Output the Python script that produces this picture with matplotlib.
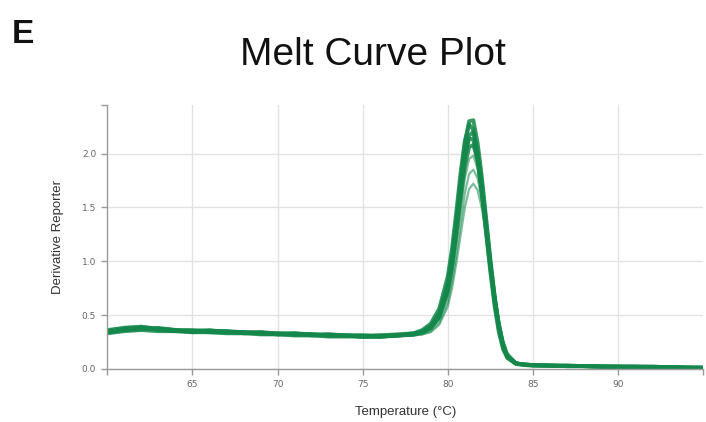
import matplotlib.pyplot as plt

# temperature steps (degC), denser around the melt peak
temps = [60, 61, 62, 63, 64, 65, 66, 67, 68, 69, 70, 71, 72, 73, 74, 75, 76, 77, 78,
         78.5, 79, 79.5, 80, 80.25, 80.5, 80.75, 81, 81.25, 81.5, 81.75, 82, 82.25,
         82.5, 82.75, 83, 83.25, 83.5, 84, 84.5, 85, 86, 87, 88, 89, 90, 91, 92, 93, 94, 95]

# derivative reporter (-Rn') per well
well_a = [0.36, 0.38, 0.39, 0.37, 0.36, 0.36, 0.35, 0.35, 0.34, 0.34, 0.33, 0.33, 0.32, 0.32, 0.31, 0.31, 0.31, 0.32, 0.33,
          0.35, 0.40, 0.52, 0.80, 1.05, 1.38, 1.75, 2.08, 2.30, 2.31, 2.10, 1.78, 1.40, 1.02, 0.68, 0.40, 0.22, 0.12,
          0.05, 0.04, 0.035, 0.03, 0.03, 0.025, 0.025, 0.02, 0.02, 0.02, 0.015, 0.015, 0.01]
well_b = [0.34, 0.37, 0.38, 0.36, 0.35, 0.35, 0.36, 0.34, 0.34, 0.33, 0.33, 0.32, 0.32, 0.31, 0.31, 0.30, 0.31, 0.31, 0.33,
          0.36, 0.42, 0.56, 0.86, 1.12, 1.46, 1.82, 2.12, 2.27, 2.22, 1.98, 1.64, 1.26, 0.90, 0.58, 0.34, 0.18, 0.10,
          0.045, 0.035, 0.03, 0.03, 0.025, 0.025, 0.02, 0.02, 0.02, 0.015, 0.015, 0.01, 0.01]
well_c = [0.35, 0.36, 0.37, 0.38, 0.36, 0.34, 0.35, 0.35, 0.33, 0.34, 0.32, 0.33, 0.31, 0.32, 0.31, 0.30, 0.30, 0.31, 0.32,
          0.34, 0.38, 0.49, 0.74, 0.98, 1.30, 1.65, 1.97, 2.17, 2.20, 2.02, 1.72, 1.36, 0.99, 0.66, 0.39, 0.21, 0.11,
          0.05, 0.04, 0.035, 0.03, 0.03, 0.025, 0.02, 0.02, 0.02, 0.02, 0.015, 0.01, 0.01]
well_d = [0.33, 0.35, 0.36, 0.35, 0.35, 0.34, 0.34, 0.33, 0.33, 0.32, 0.32, 0.31, 0.31, 0.30, 0.30, 0.30, 0.30, 0.31, 0.32,
          0.34, 0.38, 0.50, 0.76, 1.00, 1.32, 1.66, 1.96, 2.14, 2.13, 1.93, 1.63, 1.28, 0.93, 0.62, 0.37, 0.20, 0.11,
          0.05, 0.04, 0.03, 0.03, 0.025, 0.025, 0.02, 0.02, 0.015, 0.015, 0.015, 0.01, 0.01]
well_e = [0.34, 0.36, 0.38, 0.37, 0.35, 0.35, 0.34, 0.34, 0.34, 0.33, 0.32, 0.32, 0.32, 0.31, 0.31, 0.31, 0.30, 0.31, 0.32,
          0.34, 0.38, 0.48, 0.72, 0.95, 1.25, 1.58, 1.88, 2.06, 2.08, 1.94, 1.66, 1.32, 0.97, 0.66, 0.40, 0.22, 0.12,
          0.05, 0.04, 0.035, 0.03, 0.025, 0.025, 0.02, 0.02, 0.02, 0.015, 0.015, 0.01, 0.01]
well_f = [0.36, 0.39, 0.40, 0.38, 0.37, 0.36, 0.35, 0.35, 0.34, 0.33, 0.33, 0.32, 0.32, 0.31, 0.30, 0.30, 0.31, 0.31, 0.32,
          0.33, 0.37, 0.46, 0.68, 0.89, 1.17, 1.48, 1.77, 1.95, 1.98, 1.86, 1.62, 1.31, 0.98, 0.68, 0.42, 0.24, 0.13,
          0.06, 0.04, 0.035, 0.03, 0.03, 0.025, 0.02, 0.02, 0.02, 0.015, 0.015, 0.01, 0.01]
well_g = [0.35, 0.37, 0.38, 0.37, 0.36, 0.35, 0.34, 0.34, 0.33, 0.33, 0.32, 0.32, 0.31, 0.31, 0.30, 0.29, 0.29, 0.30, 0.31,
          0.32, 0.35, 0.43, 0.62, 0.81, 1.06, 1.35, 1.63, 1.81, 1.85, 1.77, 1.57, 1.30, 0.99, 0.70, 0.45, 0.26, 0.14,
          0.06, 0.04, 0.035, 0.03, 0.025, 0.025, 0.02, 0.02, 0.02, 0.015, 0.015, 0.01, 0.01]
well_h = [0.34, 0.36, 0.37, 0.36, 0.35, 0.34, 0.34, 0.33, 0.33, 0.32, 0.32, 0.31, 0.31, 0.30, 0.30, 0.29, 0.29, 0.30, 0.31,
          0.32, 0.34, 0.41, 0.58, 0.75, 0.98, 1.24, 1.50, 1.67, 1.72, 1.66, 1.49, 1.25, 0.97, 0.70, 0.46, 0.27, 0.15,
          0.06, 0.04, 0.035, 0.03, 0.03, 0.025, 0.02, 0.02, 0.02, 0.015, 0.015, 0.01, 0.01]

faint_wells = [well_h, well_g, well_f]
strong_wells = [well_e, well_d, well_c, well_b, well_a]

x_ticks = [65, 70, 75, 80, 85, 90]
y_ticks = [0.0, 0.5, 1.0, 1.5, 2.0]

green = '#14874a'

fig = plt.figure(figsize=(7.06, 4.22), dpi=100)
ax = fig.add_axes([0.152, 0.126, 0.844, 0.625])

for w in faint_wells:
    ax.plot(temps, w, color=green, lw=1.6, alpha=0.55, solid_joinstyle='round')
for w in strong_wells:
    ax.plot(temps, w, color=green, lw=2.8, alpha=0.85, solid_joinstyle='round')

ax.set_xlim(60, 95)
ax.set_ylim(0, 2.45)
ax.set_xticks(x_ticks)
ax.set_yticks(y_ticks)
ax.set_yticklabels(['%.1f' % v for v in y_ticks])
# outer ticks at the ends of each axis
ax.set_xticks([60, 95], minor=True)
ax.set_yticks([2.45], minor=True)
ax.grid(True, which='major', color='#e2e2e2', lw=1)
ax.set_axisbelow(True)

for s in ['top', 'right']:
    ax.spines[s].set_visible(False)
for s in ['left', 'bottom']:
    ax.spines[s].set_color('#999999')
    ax.spines[s].set_linewidth(1)
ax.tick_params(which='both', length=4, width=1, color='#999999', labelsize=6.5,
               labelcolor='#666666', pad=4)

ax.set_xlabel('Temperature (°C)', fontsize=9.5, color='#333333', labelpad=12,
              family='Liberation Sans')
ax.set_ylabel('Derivative Reporter', fontsize=9.5, color='#333333', labelpad=13,
              family='Liberation Sans')

fig.text(0.528, 0.87, 'Melt Curve Plot', fontsize=28, ha='center', va='center',
         family='Liberation Sans', color='#111111')
fig.text(0.016, 0.918, 'E', fontsize=24, fontweight='bold', ha='left', va='center',
         family='Liberation Sans', color='#111111')

fig.savefig('out.png', dpi=100)
